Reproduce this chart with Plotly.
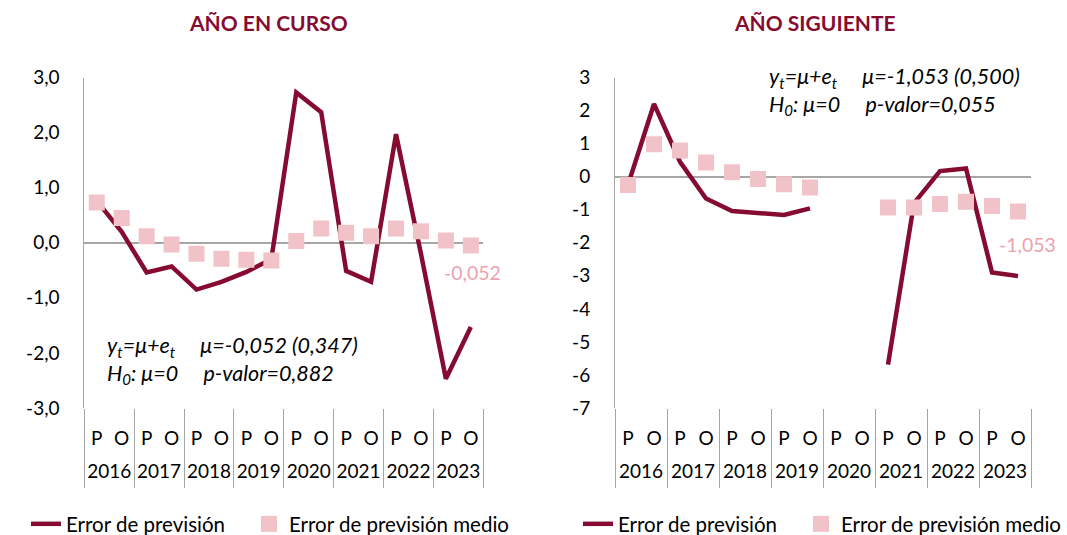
import plotly.graph_objects as go

# ---------------- data ----------------
years = ["2016", "2017", "2018", "2019", "2020", "2021", "2022", "2023"]
po = ["P", "O"]
periods = [f"{p} {y}" for y in years for p in po]
x_idx = list(range(len(periods)))
po_labels = [p for y in years for p in po]

curso_error = [0.76, 0.20, -0.54, -0.43, -0.85, -0.71, -0.53, -0.30,
               2.73, 2.37, -0.51, -0.71, 1.97, -0.20, -2.47, -1.53]
curso_medio = [0.73, 0.45, 0.12, -0.03, -0.20, -0.29, -0.31, -0.32,
               0.03, 0.26, 0.18, 0.12, 0.26, 0.21, 0.04, -0.052]

sig_error = [-0.25, 2.20, 0.45, -0.66, -1.04, -1.09, -1.16, -0.96,
             None, None, -5.69, -0.80, 0.17, 0.25, -2.90, -3.01]
sig_medio = [-0.25, 0.98, 0.79, 0.43, 0.13, -0.07, -0.23, -0.33,
             None, None, -0.93, -0.93, -0.83, -0.76, -0.89, -1.053]

curso_yvals = [3, 2, 1, 0, -1, -2, -3]
curso_yticks = ["3,0", "2,0", "1,0", "0,0", "-1,0", "-2,0", "-3,0"]
sig_yvals = [3, 2, 1, 0, -1, -2, -3, -4, -5, -6, -7]
sig_yticks = ["3", "2", "1", "0", "-1", "-2", "-3", "-4", "-5", "-6", "-7"]

titles = ["AÑO EN CURSO", "AÑO SIGUIENTE"]
eq_curso = ["μ=-0,052 (0,347)", "p-valor=0,882"]
eq_sig = ["μ=-1,053 (0,500)", "p-valor=0,055"]
end_labels = ["-0,052", "-1,053"]
legend_names = ["Error de previsión", "Error de previsión medio"]

# ---------------- style ----------------
MAROON = "#850C30"
PINK = "#F1C3C8"
PINK_TXT = "#EBA3AC"
GRAY = "#A6A6A6"
FONT = "Lato"
FS = 19
W, H = 1067, 535

fig = go.Figure()

# left panel
fig.add_trace(go.Scatter(x=x_idx, y=curso_error, mode="lines", name=legend_names[0],
                         line=dict(color=MAROON, width=4.5), xaxis="x", yaxis="y",
                         legend="legend"))
fig.add_trace(go.Scatter(x=x_idx, y=curso_medio, mode="markers", name=legend_names[1],
                         marker=dict(color=PINK, symbol="square", size=16),
                         xaxis="x", yaxis="y", legend="legend2"))
# right panel
fig.add_trace(go.Scatter(x=x_idx, y=sig_error, mode="lines", name=legend_names[0],
                         line=dict(color=MAROON, width=4.5), connectgaps=False,
                         xaxis="x2", yaxis="y2", legend="legend3"))
fig.add_trace(go.Scatter(x=x_idx, y=sig_medio, mode="markers", name=legend_names[1],
                         marker=dict(color=PINK, symbol="square", size=16),
                         xaxis="x2", yaxis="y2", legend="legend4"))

xr = [-0.5, len(periods) - 0.5]
year_pos = [2 * i + 0.5 for i in range(len(years))]
sep_pos = [2 * i - 0.5 for i in range(len(years) + 1)]

# invisible helper traces so the overlaying label / divider axes are drawn
for xa, ya in [("x3", "y"), ("x5", "y"), ("x4", "y2"), ("x6", "y2")]:
    fig.add_trace(go.Scatter(x=[xr[0], xr[1]], y=[None, None], mode="markers",
                             xaxis=xa, yaxis=ya, showlegend=False, hoverinfo="skip",
                             marker=dict(opacity=0)))

dom_l = [84.3 / W, 483.3 / W]
dom_r = [615 / W, 1031 / W]
dom_y = [1 - 408 / H, 1 - 77.5 / H]

tickfont = dict(family=FONT, size=FS, color="#000000")


def base_x(domain, anchor):
    return dict(domain=domain, range=xr, anchor=anchor, showgrid=False, zeroline=False,
                showline=False, tickmode="array", tickvals=x_idx, ticktext=po_labels,
                ticks="", tickfont=tickfont, ticklabelstandoff=17, fixedrange=True,
                automargin=False)


def year_x(over, anchor):
    return dict(overlaying=over, range=xr, anchor=anchor, side="bottom", showgrid=False,
                zeroline=False, showline=False, tickmode="array", tickvals=year_pos,
                ticktext=years, ticks="", tickfont=tickfont, ticklabelstandoff=50,
                automargin=False, fixedrange=True)


def sep_x(over, anchor):
    return dict(overlaying=over, range=xr, anchor=anchor, side="bottom", showgrid=False,
                zeroline=False, showline=False, tickmode="array", tickvals=sep_pos,
                ticks="outside", ticklen=79, tickwidth=1, tickcolor=GRAY,
                showticklabels=False, automargin=False, fixedrange=True)


def base_y(anchor, rng, vals, txt):
    return dict(domain=dom_y, anchor=anchor, range=rng, showgrid=False, showline=True,
                linecolor=GRAY, linewidth=1, zeroline=True, zerolinecolor=GRAY,
                zerolinewidth=1.5, tickmode="array", tickvals=vals, ticktext=txt,
                ticks="", tickfont=tickfont, ticklabelstandoff=20, fixedrange=True,
                automargin=False)


def leg(xpx):
    return dict(orientation="h", x=xpx / W, xanchor="left", y=1 - 524 / H,
                yanchor="middle", font=dict(family=FONT, size=20.5),
                bgcolor="rgba(0,0,0,0)")


fig.update_layout(
    width=W, height=H, margin=dict(l=0, r=0, t=0, b=0, autoexpand=False),
    paper_bgcolor="white", plot_bgcolor="white",
    font=dict(family=FONT, size=FS, color="#000000"),
    xaxis=base_x(dom_l, "y"),
    xaxis2=base_x(dom_r, "y2"),
    xaxis3=year_x("x", "y"),
    xaxis4=year_x("x2", "y2"),
    xaxis5=sep_x("x", "y"),
    xaxis6=sep_x("x2", "y2"),
    yaxis=base_y("x", [-3, 3], curso_yvals, curso_yticks),
    yaxis2=base_y("x2", [-7, 3], sig_yvals, sig_yticks),
    legend=leg(26), legend2=leg(249), legend3=leg(578), legend4=leg(801),
    showlegend=True,
)

sp = "\u00a0" * 5
ann = []
# titles
for t, cx in zip(titles, [268 / W, 815 / W]):
    ann.append(dict(text=f"<b>{t}</b>", x=cx, y=1 - 22 / H, xref="paper", yref="paper",
                    xanchor="center", yanchor="middle", showarrow=False,
                    font=dict(family=FONT, size=21, color=MAROON)))
# equations
for eq, ax_, ay_ in [(eq_curso, 105 / W, 1 - 330 / H), (eq_sig, 767 / W, 1 - 61 / H)]:
    txt = (f"<i>y<sub>t</sub>=μ+e<sub>t</sub>{sp}{eq[0]}</i><br>"
           f"<i>H<sub>0</sub>: μ=0{sp}{eq[1]}</i>")
    ann.append(dict(text=txt, x=ax_, y=ay_, xref="paper", yref="paper", xanchor="left",
                    yanchor="top", align="left", showarrow=False,
                    font=dict(family=FONT, size=21.5, color="#000000")))
# end labels
ann.append(dict(text=end_labels[0], x=x_idx[-1], y=curso_medio[-1], xref="x", yref="y",
                xanchor="center", yanchor="middle", yshift=-27, xshift=2, showarrow=False,
                font=dict(family=FONT, size=19.5, color=PINK_TXT)))
ann.append(dict(text=end_labels[1], x=x_idx[-1], y=sig_medio[-1], xref="x2", yref="y2",
                xanchor="center", yanchor="middle", yshift=-33, xshift=9, showarrow=False,
                font=dict(family=FONT, size=19.5, color=PINK_TXT)))
fig.update_layout(annotations=ann)

fig.write_html("out.html", config={"displayModeBar": False},
               post_script="document.body.style.margin='0';")
